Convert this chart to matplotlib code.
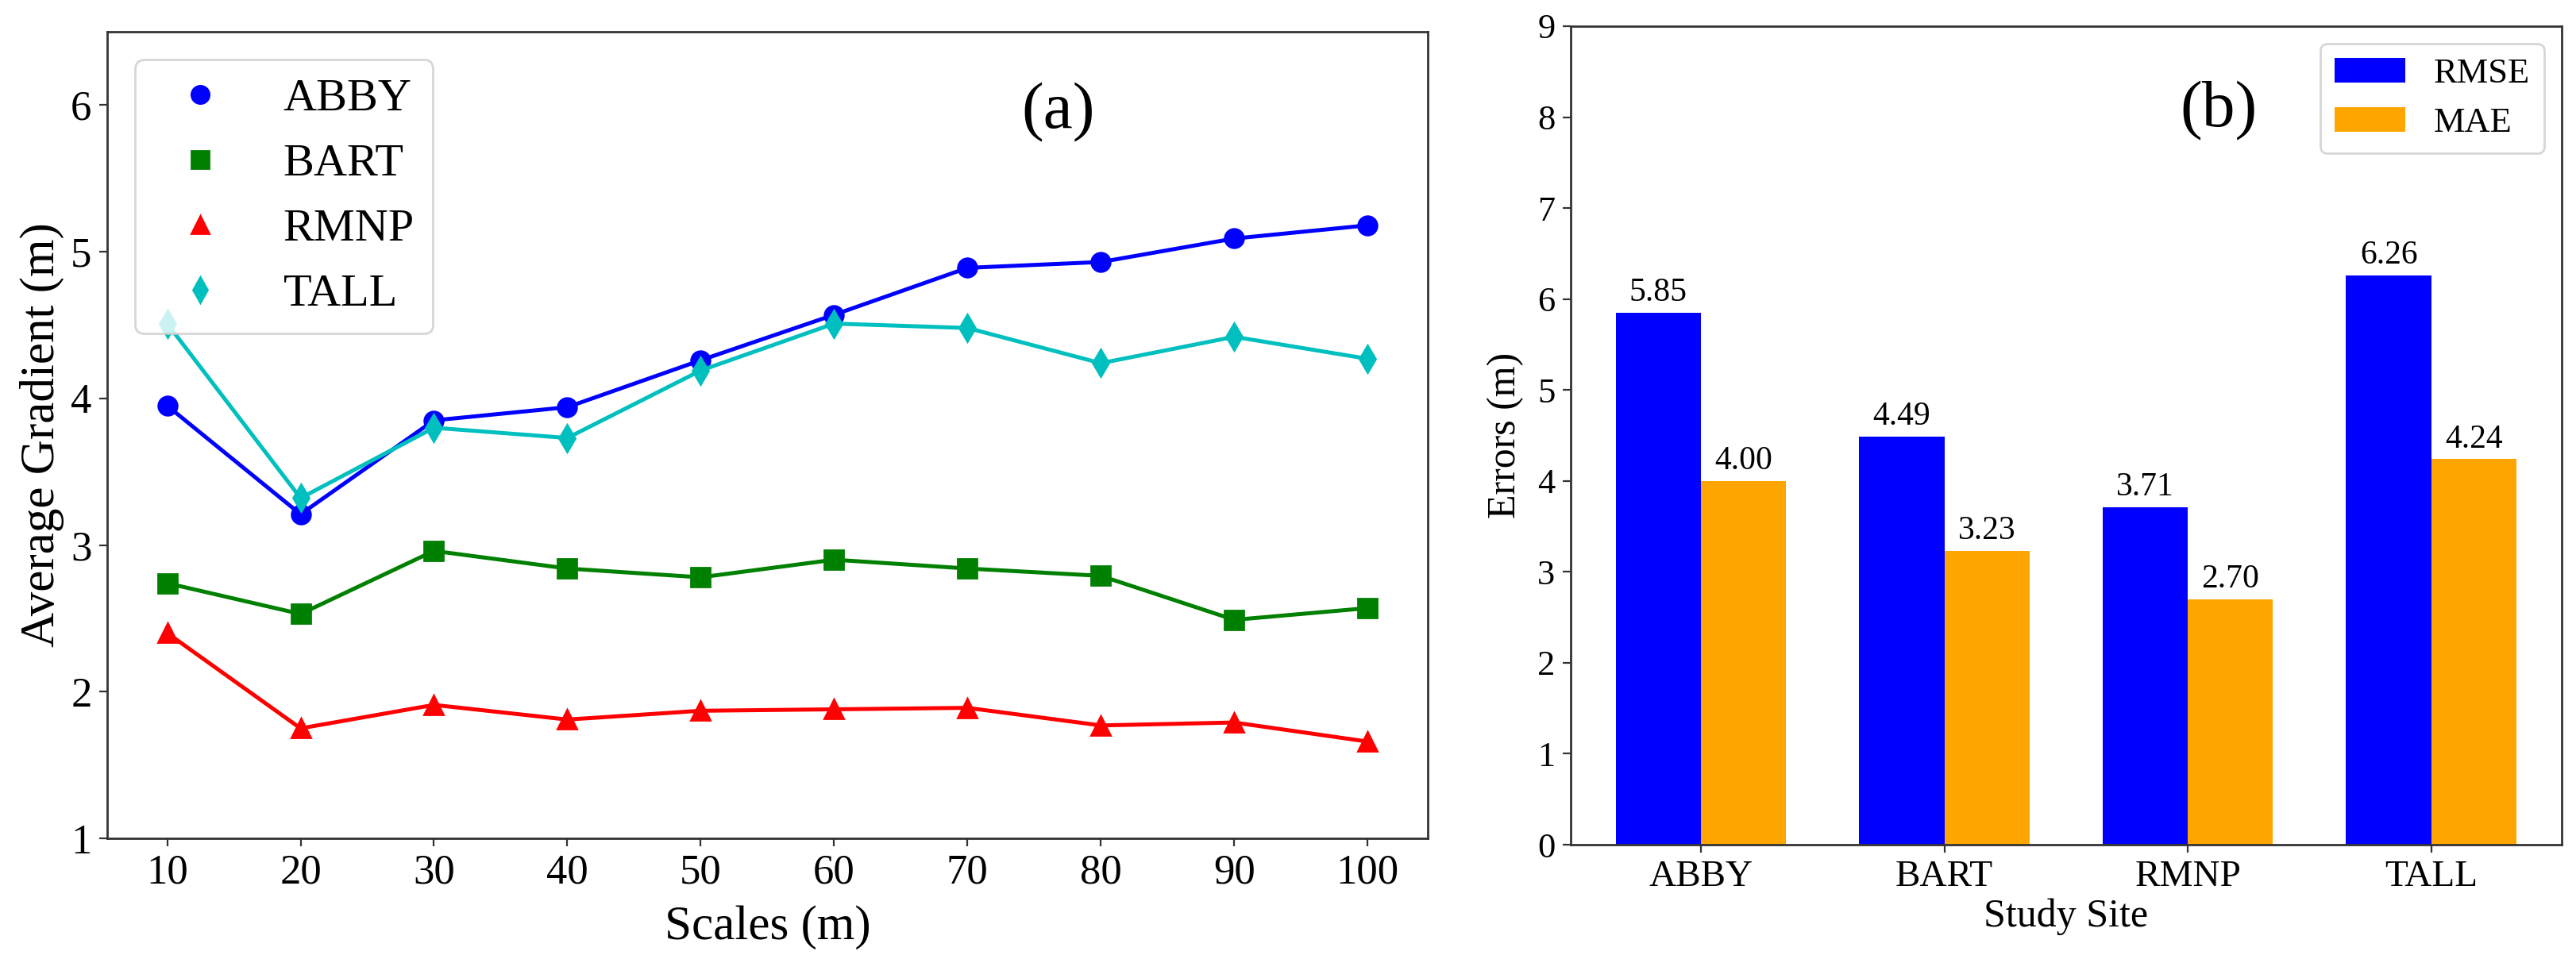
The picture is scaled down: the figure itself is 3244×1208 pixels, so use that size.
import matplotlib
matplotlib.use("Agg")
import matplotlib.pyplot as plt
import numpy as np

plt.rcParams['font.family'] = ['Liberation Serif', 'DejaVu Serif']

# ---- data: panel (a)
scales = [10, 20, 30, 40, 50, 60, 70, 80, 90, 100]
abby = [3.95, 3.21, 3.85, 3.94, 4.26, 4.57, 4.89, 4.93, 5.09, 5.18]
bart = [2.74, 2.53, 2.96, 2.84, 2.78, 2.90, 2.84, 2.79, 2.49, 2.57]
rmnp = [2.40, 1.75, 1.91, 1.81, 1.87, 1.88, 1.89, 1.77, 1.79, 1.66]
tall = [4.51, 3.32, 3.80, 3.73, 4.19, 4.51, 4.48, 4.24, 4.42, 4.27]
series_names = ['ABBY', 'BART', 'RMNP', 'TALL']

# ---- data: panel (b)
sites = ['ABBY', 'BART', 'RMNP', 'TALL']
rmse = [5.85, 4.49, 3.71, 6.26]
mae = [4.00, 3.23, 2.70, 4.24]

fig = plt.figure(figsize=(16.22, 6.04), dpi=200)
ax1 = fig.add_axes([0.0416, 0.1258, 0.5126, 0.8411])
ax2 = fig.add_axes([0.6097, 0.1192, 0.3847, 0.8535])

spine_col = '#333333'

# ---- panel (a)
styles = [('b', 'o'), ('g', 's'), ('r', '^'), ('c', 'd')]
for vals, name, (col, mk) in zip([abby, bart, rmnp, tall], series_names, styles):
    ax1.plot(scales, vals, color=col, marker=mk, markersize=8.5, linewidth=1.8)
    ax1.plot([], [], color=col, marker=mk, markersize=8, linestyle='none', label=name)

ax1.set_xlim(5.5, 104.5)
ax1.set_ylim(1, 6.5)
ax1.set_xticks(scales)
ax1.set_yticks([1, 2, 3, 4, 5, 6])
ax1.tick_params(labelsize=19)
ax1.set_xlabel('Scales (m)', fontsize=22, labelpad=6)
ax1.set_ylabel('Average Gradient (m)', fontsize=22, labelpad=3)
ax1.legend(loc='upper left', fontsize=21, labelspacing=0.5, borderpad=0.4,
           bbox_to_anchor=(0.0, 1.0), borderaxespad=0.6)
ax1.text(0.72, 0.90, '(a)', transform=ax1.transAxes, fontsize=30,
         ha='center', va='center')

# ---- panel (b)
x = np.arange(len(sites))
w = 0.35
b1 = ax2.bar(x - w / 2, rmse, w, color='blue', label='RMSE')
b2 = ax2.bar(x + w / 2, mae, w, color='orange', label='MAE')
ax2.bar_label(b1, fmt='%.2f', fontsize=15, padding=2)
ax2.bar_label(b2, fmt='%.2f', fontsize=15, padding=2)
ax2.set_xticks(x)
ax2.set_xticklabels(sites)
ax2.set_ylim(0, 9)
ax2.set_yticks(range(0, 10))
ax2.tick_params(axis='x', labelsize=17)
ax2.tick_params(axis='y', labelsize=16)
ax2.set_xlabel('Study Site', fontsize=18, labelpad=2)
ax2.set_ylabel('Errors (m)', fontsize=18, labelpad=6)
ax2.legend(loc='upper right', fontsize=16, borderaxespad=0.5)
ax2.text(0.654, 0.897, '(b)', transform=ax2.transAxes, fontsize=30,
         ha='center', va='center')

for ax in (ax1, ax2):
    for sp in ax.spines.values():
        sp.set_color(spine_col)
        sp.set_linewidth(1.0)
    ax.tick_params(color=spine_col)

fig.savefig('out.png', dpi=200)
